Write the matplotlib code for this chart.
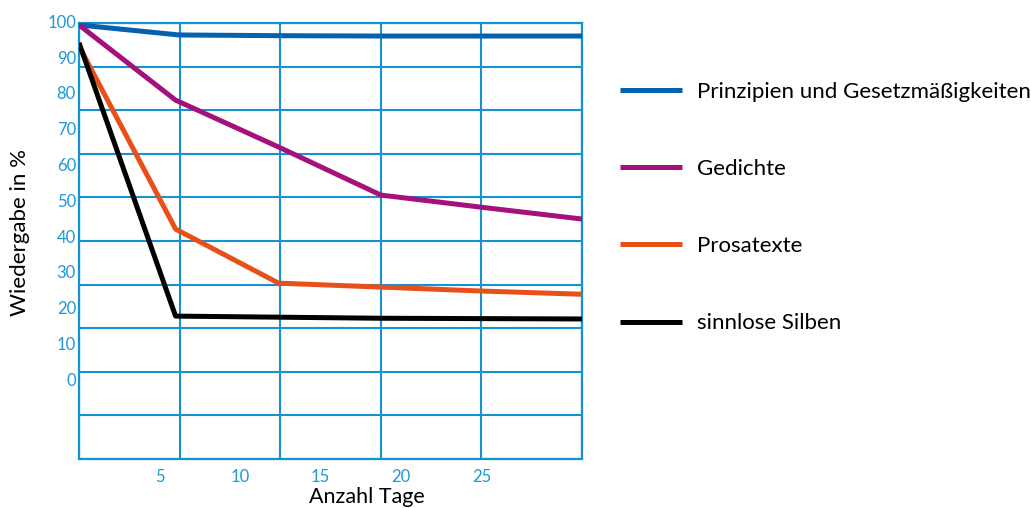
import numpy as np
from matplotlib import pyplot as plt
from matplotlib import transforms

# Data (x in days, y in % recall)
days_blue = [0, 6.2, 12.5, 18.75, 25, 31.25]
recall_blue = [98.9, 96.1, 95.9, 95.8, 95.8, 95.8]
days_purple = [0, 6.0, 12.55, 18.75, 25, 31.25]
recall_purple = [98.9, 77.9, 64.5, 51.4, 48.0, 44.7]
days_orange = [0, 6.0, 12.4, 18.75, 25, 31.25]
recall_orange = [93.0, 41.9, 26.8, 25.7, 24.6, 23.7]
days_black = [0, 6.0, 18.75, 31.25]
recall_black = [93.9, 17.6, 17.0, 16.8]

labels = ['Prinzipien und Gesetzmäßigkeiten', 'Gedichte', 'Prosatexte', 'sinnlose Silben']
x_ticklabels = [5, 10, 15, 20, 25]
y_ticklabels = [0, 10, 20, 30, 40, 50, 60, 70, 80, 90, 100]

# Plot aspects
c_grid = '#1592D2'
c_tick = '#1E98D6'
colors = ['#0461AB', '#A4107C', '#E8501A', '#000000']
lw = 3.6
plt.rcParams['font.family'] = ['Lato', 'DejaVu Sans']

x_limit = (0, 31.25)
y_limit = (-22.3, 99.44)

fig = plt.figure(figsize=(10.31, 5.08), dpi=100)
ax = fig.add_axes([79 / 1031, 1 - 459 / 508, 503 / 1031, 436 / 508])

ax.plot(days_blue, recall_blue, color=colors[0], lw=lw, label=labels[0], solid_capstyle='butt', zorder=3)
ax.plot(days_purple, recall_purple, color=colors[1], lw=lw, label=labels[1], solid_capstyle='butt', zorder=3)
ax.plot(days_orange, recall_orange, color=colors[2], lw=lw, label=labels[2], solid_capstyle='butt', zorder=3)
ax.plot(days_black, recall_black, color=colors[3], lw=lw, label=labels[3], solid_capstyle='butt', zorder=3)

ax.set_xlim(x_limit)
ax.set_ylim(y_limit)

# grid lines (major ticks, unlabeled)
ax.set_xticks(np.linspace(x_limit[0], x_limit[1], 6))
ax.set_yticks(np.linspace(y_limit[0], y_limit[1], 11))
ax.tick_params(which='major', length=0, labelbottom=False, labelleft=False)
ax.grid(color=c_grid, lw=1.5, zorder=1)
for s in ax.spines.values():
    s.set_color(c_grid)
    s.set_linewidth(1.6)

# x labels as minor ticks
ax.xaxis.remove_overlapping_locs = False
ax.set_xticks(x_ticklabels, minor=True)
ax.set_xticklabels([str(v) for v in x_ticklabels], minor=True)
ax.tick_params(which='minor', length=0, labelsize=12, labelcolor=c_tick, pad=7)

# y labels (they don't sit on the grid lines)
trans = transforms.blended_transform_factory(ax.transAxes, ax.transData)
for v in y_ticklabels:
    ax.text(-0.006, v - 0.5, str(v), transform=trans, ha='right', va='center', fontsize=12,
            color=c_tick, clip_on=False)

fig.text(367 / 1031, 1 - 497 / 508, 'Anzahl Tage', ha='center', va='center', fontsize=15.5)
fig.text(20 / 1031, 1 - 232 / 508, 'Wiedergabe in %', rotation=90, ha='center', va='center', fontsize=16)

fig.legend(loc='upper left', bbox_to_anchor=(620 / 1031, 1 - 82 / 508), frameon=False, fontsize=16,
           handlelength=2.8, handletextpad=0.68, labelspacing=2.57, borderpad=0, borderaxespad=0)

fig.savefig('out.png', dpi=100)
